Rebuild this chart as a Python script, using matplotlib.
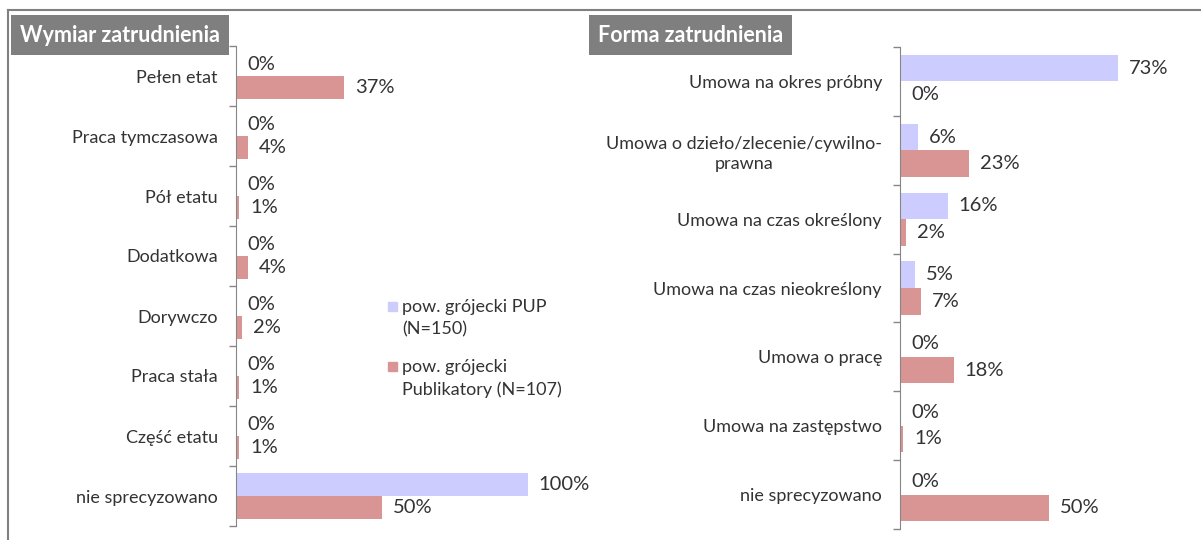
import matplotlib
matplotlib.use('Agg')
import matplotlib.pyplot as plt
from matplotlib.lines import Line2D
from matplotlib.patches import Rectangle
import numpy as np

plt.rcParams['font.family'] = ['Lato', 'DejaVu Sans']

# data
wymiar_cats = ['Pełen etat', 'Praca tymczasowa', 'Pół etatu', 'Dodatkowa',
               'Dorywczo', 'Praca stała', 'Część etatu', 'nie sprecyzowano']
wymiar_pup = [0, 0, 0, 0, 0, 0, 0, 100]
wymiar_pub = [37, 4, 1, 4, 2, 1, 1, 50]

forma_cats = ['Umowa na okres próbny', 'Umowa o dzieło/zlecenie/cywilno-\nprawna',
              'Umowa na czas określony', 'Umowa na czas nieokreślony',
              'Umowa o pracę', 'Umowa na zastępstwo', 'nie sprecyzowano']
forma_pup = [73, 6, 16, 5, 0, 0, 0]
forma_pub = [0, 23, 2, 7, 18, 1, 50]

series_names = ['pow. grójecki PUP\n(N=150)', 'pow. grójecki\nPublikatory (N=107)']
c_pup = '#ccccff'
c_pub = '#d99594'
txt = '#333333'
W, H = 1201, 540

fig = plt.figure(figsize=(W / 100, H / 100), dpi=100)


def panel(rect, cats, pup, pub, xmax):
    ax = fig.add_axes(rect)
    y = np.arange(len(cats))
    h = 0.385
    b1 = ax.barh(y - h / 2, pup, height=h, color=c_pup)
    b2 = ax.barh(y + h / 2, pub, height=h, color=c_pub)
    for bars, vals in ((b1, pup), (b2, pub)):
        for bar, v in zip(bars, vals):
            ax.annotate(f'{v}%', (v, bar.get_y() + bar.get_height() / 2),
                        xytext=(8, 0), textcoords='offset points',
                        ha='left', va='center', fontsize=14.5, color=txt,
                        annotation_clip=False)
    ax.set_xlim(0, xmax)
    ax.set_ylim(len(cats) - 0.5, -0.5)
    ax.set_yticks(np.arange(len(cats) + 1) - 0.5, minor=False)
    ax.set_yticklabels([])
    ax.set_yticks(y, minor=True)
    ax.set_yticklabels(cats, minor=True, fontsize=13, color=txt,
                       multialignment='center', linespacing=1.35)
    ax.tick_params(axis='y', which='major', length=5, color='#868686', width=1)
    ax.tick_params(axis='y', which='minor', length=0, pad=13)
    ax.set_xticks([])
    for s in ('top', 'right', 'bottom'):
        ax.spines[s].set_visible(False)
    ax.spines['left'].set_color('#868686')
    return ax


ax1 = panel([236 / W, 14 / H, 350 / W, 480 / H],
            wymiar_cats, wymiar_pup, wymiar_pub, 120)
ax2 = panel([900 / W, 11 / H, 298 / W, 482 / H],
            forma_cats, forma_pup, forma_pub, 100)

# legend (square next to the first line of each entry)
for i, (name, col) in enumerate(zip(series_names, [c_pup, c_pub])):
    yc = 306 + 60 * i
    fig.add_artist(Rectangle((388 / W, 1 - (yc + 4.5) / H), 9 / W, 9 / H,
                             transform=fig.transFigure, color=col))
    fig.text(402 / W, 1 - (yc - 7) / H, name, fontsize=13, color=txt,
             ha='left', va='top', linespacing=1.45)

# title boxes
box = dict(facecolor='#7f7f7f', edgecolor='none', pad=6.5)
fig.text(20 / W, 1 - 35 / H, 'Wymiar zatrudnienia', color='white',
         fontsize=15.5, fontweight='bold', va='center', ha='left', bbox=box)
fig.text(598 / W, 1 - 35 / H, 'Forma zatrudnienia', color='white',
         fontsize=15.5, fontweight='bold', va='center', ha='left', bbox=box)

# outer frame (top and left only visible)
fig.add_artist(Line2D([8 / W, 1], [1 - 10 / H, 1 - 10 / H], color='#808080', lw=1.5))
fig.add_artist(Line2D([8 / W, 8 / W], [0, 1 - 10 / H], color='#808080', lw=1.5))

fig.savefig('out.png', dpi=100)
